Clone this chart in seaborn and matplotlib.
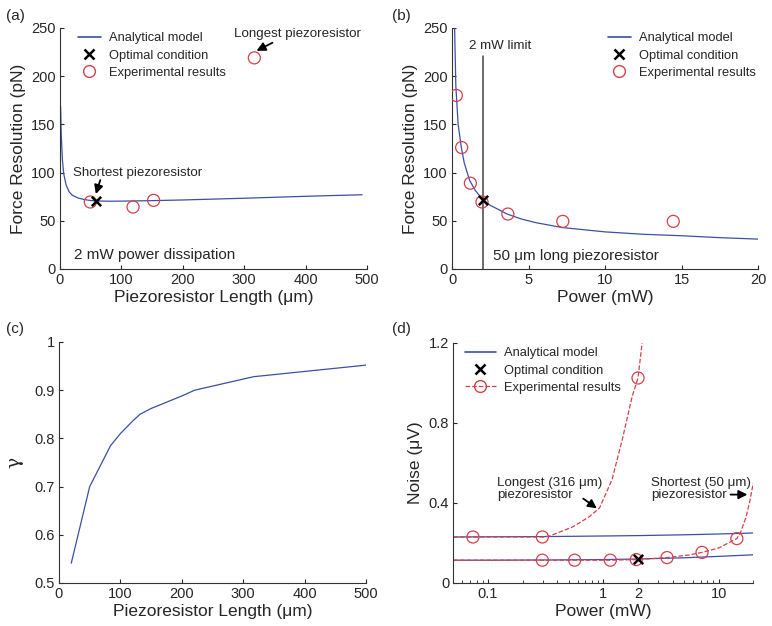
import matplotlib
matplotlib.use("Agg")
import matplotlib.pyplot as plt
import seaborn as sns
from matplotlib.lines import Line2D
from matplotlib.ticker import LogLocator, NullFormatter

# -----------------------------
# Data
# -----------------------------
# (a) force resolution vs piezoresistor length
a_len = [1, 2, 4, 6, 10, 15, 20, 30, 40, 50, 60, 80, 100, 150, 200, 250, 300, 350, 400, 450, 492]
a_model = [169, 140, 113, 99, 87, 80, 76.5, 73.5, 72, 71, 70.6, 70.3, 70.4, 70.9, 71.6, 72.5, 73.4, 74.4, 75.4, 76.3, 77]
a_exp_len = [49.4, 119, 152.5, 316.5]
a_exp_force = [69.5, 64.3, 71.2, 219]
a_opt_len = [58.6]
a_opt_force = [70.9]

# (b) force resolution vs power
b_power = [0.17, 0.25, 0.4, 0.6, 0.8, 1.15, 1.5, 2, 2.5, 3, 3.6, 4.5, 5.5, 7.2, 10, 12.5, 15, 17.5, 20]
b_model = [250, 190, 150, 127, 110, 92, 82, 72, 66, 62, 57, 52, 48, 43, 38.5, 36, 34.5, 32.5, 31]
b_exp_power = [0.28, 0.63, 1.2, 1.96, 3.65, 7.24, 14.46]
b_exp_force = [180, 126, 89, 69.5, 57, 49.4, 49.4]
b_opt_power = [2.0]
b_opt_force = [72]

# (c) gamma vs piezoresistor length
c_len = [20, 50, 84, 100, 120, 132, 150, 200, 221, 317, 500]
c_gamma = [0.541, 0.70, 0.785, 0.81, 0.836, 0.85, 0.862, 0.888, 0.90, 0.928, 0.952]

# (d) noise vs power (log scale)
d_power = [0.05, 0.1, 0.3, 1, 2, 5, 10, 20]
d_model_long = [0.230, 0.231, 0.232, 0.235, 0.237, 0.241, 0.245, 0.250]
d_model_short = [0.114, 0.114, 0.115, 0.117, 0.120, 0.126, 0.133, 0.141]
d_fit_long_power = [0.05, 0.074, 0.3, 0.342, 0.545, 0.75, 0.927, 1.19, 1.46, 1.78, 2.0, 2.17]
d_fit_long_noise = [0.23, 0.23, 0.23, 0.235, 0.281, 0.33, 0.375, 0.517, 0.717, 0.933, 1.025, 1.2]
d_fit_short_power = [0.05, 0.3, 0.564, 1.15, 1.93, 3.57, 5.5, 7.18, 10, 14.4, 15.6, 17.3, 18.5, 20]
d_fit_short_noise = [0.114, 0.114, 0.114, 0.114, 0.117, 0.127, 0.14, 0.153, 0.175, 0.222, 0.257, 0.33, 0.4, 0.5]
d_exp_long_power = [0.074, 0.296, 2.0]
d_exp_long_noise = [0.23, 0.23, 1.025]
d_exp_short_power = [0.296, 0.564, 1.15, 1.93, 3.57, 7.18, 14.4]
d_exp_short_noise = [0.114, 0.114, 0.114, 0.117, 0.127, 0.153, 0.222]
d_opt_power = [2.0]
d_opt_noise = [0.12]

# -----------------------------
# Style
# -----------------------------
sns.set_style("ticks")
plt.rcParams["font.family"] = ["Liberation Sans", "DejaVu Sans"]
plt.rcParams["xtick.direction"] = "in"
plt.rcParams["ytick.direction"] = "in"
plt.rcParams["axes.edgecolor"] = "#333333"
plt.rcParams["xtick.labelsize"] = 10.5
plt.rcParams["ytick.labelsize"] = 10.5

BLUE = "#3c4fa6"
RED = "#d6404a"
LBL = 12.5
LEG = 9.3
ANN = 11

fig = plt.figure(figsize=(7.72, 6.26), dpi=100)
ax_a = fig.add_axes([0.0777, 0.5703, 0.3977, 0.385])
ax_b = fig.add_axes([0.5855, 0.5703, 0.3964, 0.385])
ax_c = fig.add_axes([0.0764, 0.0687, 0.3977, 0.385])
ax_d = fig.add_axes([0.5872, 0.0687, 0.3886, 0.3834])


def exp_circles(ax, x, y):
    sns.scatterplot(x=x, y=y, ax=ax, marker="o", s=75, facecolors="none",
                    edgecolor=RED, linewidth=0.9, zorder=4)


def opt_cross(ax, x, y):
    sns.scatterplot(x=x, y=y, ax=ax, marker="x", s=45, color="black",
                    linewidth=1.8, zorder=5)


def legend_handles(dashed=False):
    exp = Line2D([], [], color=RED if dashed else "none", ls="--" if dashed else "none",
                 lw=0.9, marker="o", mfc="none", mec=RED, ms=8.5)
    return [Line2D([], [], color=BLUE, lw=1.2),
            Line2D([], [], color="black", ls="none", marker="x", ms=6.5, mew=1.8),
            exp]


labels = ["Analytical model", "Optimal condition", "Experimental results"]
arrow = dict(arrowstyle="-|>", color="black", lw=1.3, mutation_scale=13)

# -----------------------------
# (a)
# -----------------------------
sns.lineplot(x=a_len, y=a_model, ax=ax_a, color=BLUE, lw=0.9, sort=False)
exp_circles(ax_a, a_exp_len, a_exp_force)
opt_cross(ax_a, a_opt_len, a_opt_force)
ax_a.set_xlim(0, 500)
ax_a.set_ylim(0, 250)
ax_a.set_xticks([0, 100, 200, 300, 400, 500])
ax_a.set_yticks([0, 50, 100, 150, 200, 250])
ax_a.set_xlabel("Piezoresistor Length (\u03bcm)", fontsize=LBL, labelpad=2)
ax_a.set_ylabel("Force Resolution (pN)", fontsize=LBL, labelpad=4)
ax_a.legend(legend_handles(), labels, loc="upper left", frameon=False, fontsize=LEG,
            handlelength=1.8, handletextpad=0.6, labelspacing=0.4,
            bbox_to_anchor=(0.02, 1.03))
ax_a.text(22, 100, "Shortest piezoresistor", fontsize=9.6, va="center")
ax_a.annotate("", xy=(57, 75), xytext=(67, 95), arrowprops=arrow)
ax_a.text(283, 244, "Longest piezoresistor", fontsize=9.6, va="center")
ax_a.annotate("", xy=(316, 225), xytext=(350, 236), arrowprops=arrow)
ax_a.text(23, 14, "2 mW power dissipation", fontsize=ANN, va="center")

# -----------------------------
# (b)
# -----------------------------
ax_b.plot([2, 2], [0, 221], color="#444444", lw=1.1)
sns.lineplot(x=b_power, y=b_model, ax=ax_b, color=BLUE, lw=0.9, sort=False)
exp_circles(ax_b, b_exp_power, b_exp_force)
opt_cross(ax_b, b_opt_power, b_opt_force)
ax_b.set_xlim(0, 20)
ax_b.set_ylim(0, 250)
ax_b.set_xticks([0, 5, 10, 15, 20])
ax_b.set_yticks([0, 50, 100, 150, 200, 250])
ax_b.set_xlabel("Power (mW)", fontsize=LBL, labelpad=2)
ax_b.set_ylabel("Force Resolution (pN)", fontsize=LBL, labelpad=4)
ax_b.legend(legend_handles(), labels, loc="upper right", frameon=False, fontsize=LEG,
            handlelength=1.8, handletextpad=0.6, labelspacing=0.4,
            bbox_to_anchor=(1.03, 1.03))
ax_b.text(1.1, 231, "2 mW limit", fontsize=9.6, va="center")
ax_b.text(2.7, 13, "50 \u03bcm long piezoresistor", fontsize=ANN, va="center")

# -----------------------------
# (c)
# -----------------------------
sns.lineplot(x=c_len, y=c_gamma, ax=ax_c, color=BLUE, lw=0.9, sort=False)
ax_c.set_xlim(0, 500)
ax_c.set_ylim(0.5, 1)
ax_c.set_xticks([0, 100, 200, 300, 400, 500])
ax_c.set_yticks([0.5, 0.6, 0.7, 0.8, 0.9, 1.0])
ax_c.set_yticklabels(["0.5", "0.6", "0.7", "0.8", "0.9", "1"])
ax_c.set_xlabel("Piezoresistor Length (\u03bcm)", fontsize=LBL, labelpad=2)
ax_c.set_ylabel("\u03b3", fontsize=LBL + 1, labelpad=8, family="DejaVu Serif")

# -----------------------------
# (d)
# -----------------------------
ax_d.set_xscale("log")
sns.lineplot(x=d_power, y=d_model_long, ax=ax_d, color=BLUE, lw=0.9, sort=False)
sns.lineplot(x=d_power, y=d_model_short, ax=ax_d, color=BLUE, lw=0.9, sort=False)
sns.lineplot(x=d_fit_long_power, y=d_fit_long_noise, ax=ax_d, color=RED, lw=0.9,
             linestyle="--", sort=False)
sns.lineplot(x=d_fit_short_power, y=d_fit_short_noise, ax=ax_d, color=RED, lw=0.9,
             linestyle="--", sort=False)
exp_circles(ax_d, d_exp_long_power, d_exp_long_noise)
exp_circles(ax_d, d_exp_short_power, d_exp_short_noise)
opt_cross(ax_d, d_opt_power, d_opt_noise)
ax_d.set_xlim(0.05, 20)
ax_d.set_ylim(0, 1.2)
ax_d.set_xticks([0.1, 1, 2, 10])
ax_d.set_xticklabels(["0.1", "1", "2", "10"])
ax_d.xaxis.set_minor_locator(LogLocator(base=10, subs=range(2, 10)))
ax_d.xaxis.set_minor_formatter(NullFormatter())
ax_d.set_yticks([0, 0.4, 0.8, 1.2])
ax_d.set_yticklabels(["0", "0.4", "0.8", "1.2"])
ax_d.set_xlabel("Power (mW)", fontsize=LBL, labelpad=2)
ax_d.set_ylabel("Noise (\u03bcV)", fontsize=LBL, labelpad=4)
ax_d.legend(legend_handles(dashed=True), labels, loc="upper left", frameon=False,
            fontsize=LEG, handlelength=2.4, handletextpad=0.6, labelspacing=0.4,
            bbox_to_anchor=(0.0, 1.03))
ax_d.text(0.12, 0.47, "Longest (316 \u03bcm)\npiezoresistor", fontsize=9.6,
          va="center", linespacing=1.1)
ax_d.annotate("", xy=(0.92, 0.365), xytext=(0.64, 0.43), arrowprops=arrow)
ax_d.text(2.6, 0.47, "Shortest (50 \u03bcm)\npiezoresistor", fontsize=9.6,
          va="center", linespacing=1.1)
ax_d.annotate("", xy=(18.8, 0.442), xytext=(12.0, 0.442), arrowprops=arrow)

for ax in [ax_a, ax_b, ax_c, ax_d]:
    sns.despine(ax=ax)
    ax.tick_params(length=3, width=0.8, pad=3)
    ax.tick_params(which="minor", length=2)
    for s in ax.spines.values():
        s.set_linewidth(0.8)

fig.text(0.008, 0.974, "(a)", fontsize=ANN, va="center")
fig.text(0.508, 0.974, "(b)", fontsize=ANN, va="center")
fig.text(0.008, 0.475, "(c)", fontsize=ANN, va="center")
fig.text(0.508, 0.475, "(d)", fontsize=ANN, va="center")

fig.savefig("out.png", dpi=100)
